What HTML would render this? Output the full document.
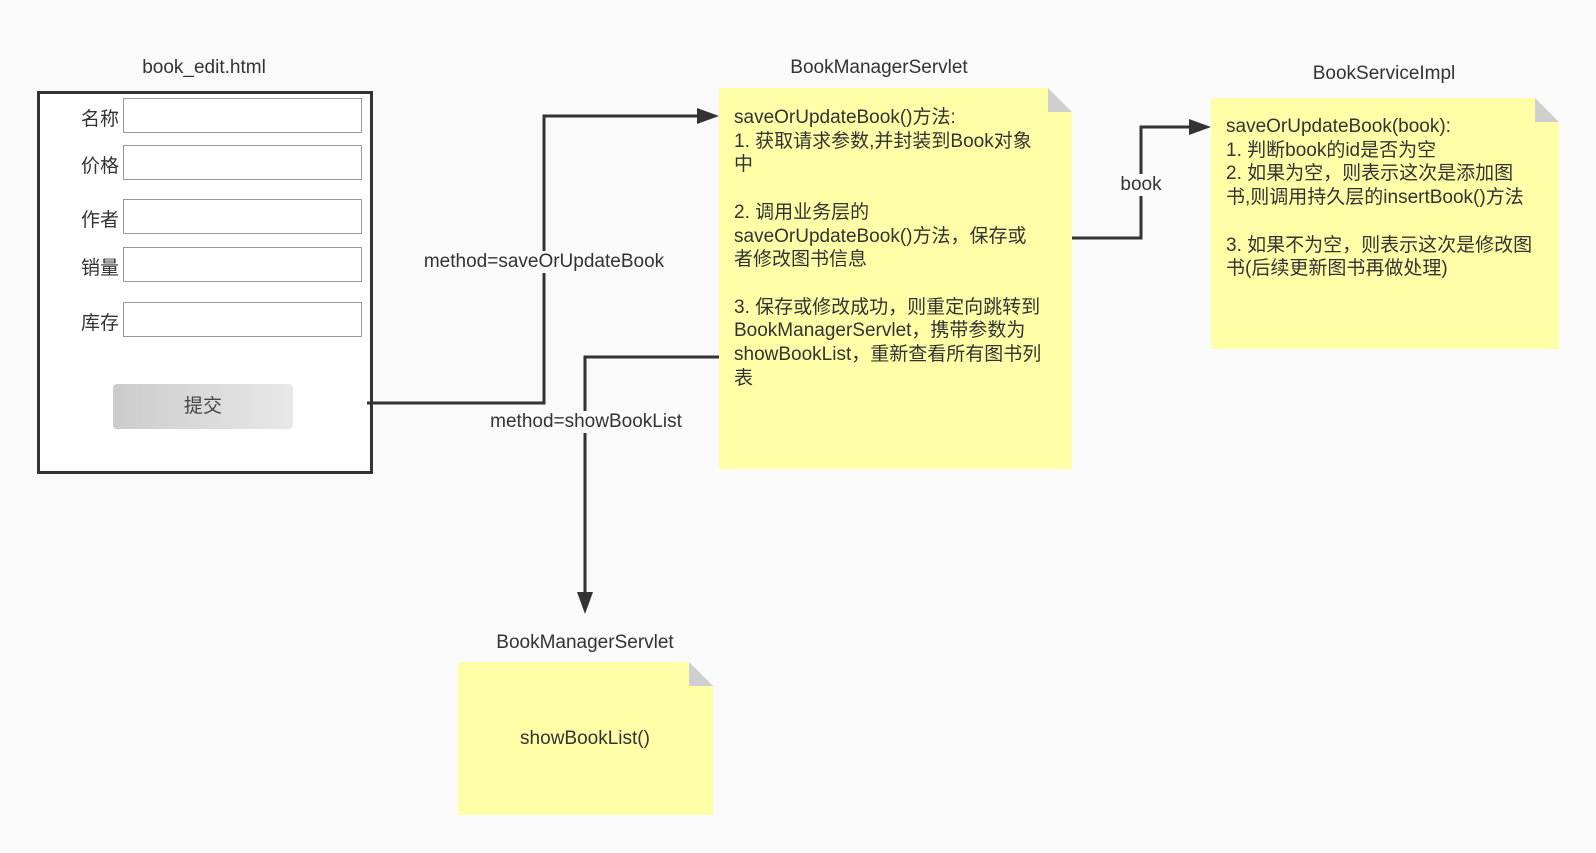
<!DOCTYPE html>
<html><head><meta charset="utf-8"><style>
body{margin:0;width:1596px;height:853px;background:#fafafa;position:relative;overflow:hidden;font-family:"Liberation Sans","Noto Sans CJK SC",sans-serif;color:#333;}
.a{position:absolute}
.t{position:absolute;font-size:19px;transform:translateX(-50%);white-space:nowrap}
.lab{position:absolute;font-size:19px;width:40px;text-align:right}
.in{position:absolute;left:123px;width:237px;height:33px;border:1px solid #999;background:#fff}
.note{position:absolute;background:#ffffa8;clip-path:polygon(0 0,calc(100% - 24px) 0,100% 24px,100% 100%,0 100%)}
.fold{position:absolute;width:24px;height:24px;background:#cfcfcf;clip-path:polygon(0 0,100% 100%,0 100%)}
.nt{position:absolute;font-size:19px;line-height:23.7px;color:#333;white-space:nowrap}
.el{position:absolute;font-size:19px;background:#fafafa;transform:translate(-50%,-50%);white-space:nowrap;padding:0 1px}
</style></head><body>
<div class="t" style="left:204px;top:57px">book_edit.html</div>
<div class="a" style="left:37px;top:91px;width:330px;height:377px;border:3px solid #333;background:#fff"></div>
<div class="lab" style="left:79px;top:104px">名称</div><div class="in" style="top:98px"></div>
<div class="lab" style="left:79px;top:151px">价格</div><div class="in" style="top:145px"></div>
<div class="lab" style="left:79px;top:205px">作者</div><div class="in" style="top:199px"></div>
<div class="lab" style="left:79px;top:253px">销量</div><div class="in" style="top:247px"></div>
<div class="lab" style="left:79px;top:308px">库存</div><div class="in" style="top:302px"></div>
<div class="a" style="left:113px;top:384px;width:180px;height:45px;border-radius:4px;background:linear-gradient(90deg,#ccc,#e8e8e8);font-size:19px;text-align:center;line-height:45px;color:#444">提交</div>

<div class="t" style="left:879px;top:57px">BookManagerServlet</div>
<div class="note" style="left:719px;top:88px;width:353px;height:381px"></div>
<div class="fold" style="left:1048px;top:88px"></div>
<div class="nt" style="left:734px;top:106px">saveOrUpdateBook()方法:<br>1. 获取请求参数,并封装到Book对象<br>中<br><br>2. 调用业务层的<br>saveOrUpdateBook()方法，保存或<br>者修改图书信息<br><br>3. 保存或修改成功，则重定向跳转到<br>BookManagerServlet，携带参数为<br>showBookList，重新查看所有图书列<br>表</div>

<div class="t" style="left:1384px;top:63px">BookServiceImpl</div>
<div class="note" style="left:1211px;top:98px;width:348px;height:251px"></div>
<div class="fold" style="left:1535px;top:98px"></div>
<div class="nt" style="left:1226px;top:115px">saveOrUpdateBook(book):<br>1. 判断book的id是否为空<br>2. 如果为空，则表示这次是添加图<br>书,则调用持久层的insertBook()方法<br><br>3. 如果不为空，则表示这次是修改图<br>书(后续更新图书再做处理)</div>

<div class="t" style="left:585px;top:632px">BookManagerServlet</div>
<div class="note" style="left:458px;top:662px;width:255px;height:153px"></div>
<div class="fold" style="left:689px;top:662px"></div>
<div class="t" style="left:585px;top:728px">showBookList()</div>

<svg class="a" style="left:0;top:0" width="1596" height="853">
<g fill="none" stroke="#333" stroke-width="3">
<polyline points="367,403 544,403 544,116 700,116"/>
<polyline points="719,357 585,357 585,596"/>
<polyline points="1072,238 1141,238 1141,127 1192,127"/>
</g>
<g fill="#333">
<polygon points="719,116 697,108 697,124"/>
<polygon points="585,614 577,592 593,592"/>
<polygon points="1211,127 1189,119 1189,135"/>
</g>
</svg>
<div class="el" style="left:544px;top:262px">method=saveOrUpdateBook</div>
<div class="el" style="left:586px;top:422px">method=showBookList</div>
<div class="el" style="left:1141px;top:185px">book</div>
</body></html>
